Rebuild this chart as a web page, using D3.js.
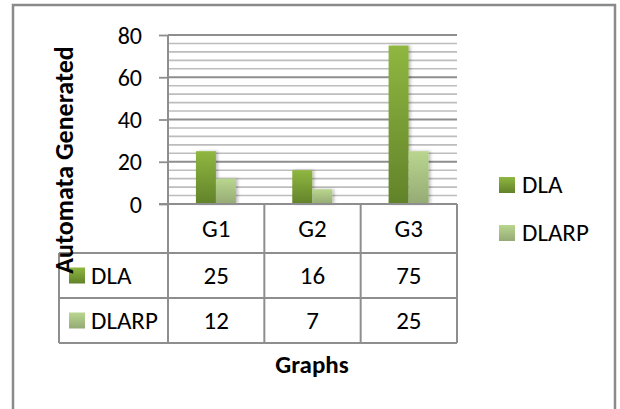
<!DOCTYPE html>
<html><head><meta charset="utf-8">
<script src="https://cdn.jsdelivr.net/npm/d3@7/dist/d3.min.js"></script>
<style>
html,body{margin:0;padding:0;background:#fff;}
svg{display:block;}
text{font-family:Carlito,Calibri,Lato,"Open Sans",sans-serif;fill:#000;}
</style></head>
<body>
<svg id="c" width="620" height="409"></svg>
<script>
const categories = ["G1","G2","G3"];
const seriesNames = ["DLA","DLARP"];
const dlaValues = [25,16,75];
const dlarpValues = [12,7,25];
const yTicks = [0,20,40,60,80];
const yTitle = "Automata Generated";
const xTitle = "Graphs";

const series = [dlaValues, dlarpValues];
const svg = d3.select("#c");
const defs = svg.append("defs");
const grads = [["#8fb740","#62822a"],["#b9d68e","#95aa75"]];
grads.forEach((g,i)=>{
  const lg = defs.append("linearGradient").attr("id","g"+i).attr("x1",0).attr("y1",0).attr("x2",0).attr("y2",1);
  lg.append("stop").attr("offset","0%").attr("stop-color",g[0]);
  lg.append("stop").attr("offset","100%").attr("stop-color",g[1]);
});
const sh = defs.append("filter").attr("id","sh").attr("x","-20%").attr("y","-10%").attr("width","160%").attr("height","130%");
sh.append("feDropShadow").attr("dx",2).attr("dy",0).attr("stdDeviation",1.5).attr("flood-color","#000").attr("flood-opacity",0.25);

// frame
svg.append("rect").attr("x",13).attr("y",5).attr("width",602).attr("height",420)
  .attr("fill","#fff").attr("stroke","#8a8a8a").attr("stroke-width",2.5);

const x = d3.scaleBand().domain(categories).range([168,457]);
const x1 = d3.scaleBand().domain(seriesNames).range([x.bandwidth()*0.29, x.bandwidth()*0.705]);
const y = d3.scaleLinear().domain([0,80]).range([204,35]);

// minor gridlines
svg.append("g").selectAll("line").data(d3.range(0,81,4).filter(v=>v%20!==0)).join("line")
  .attr("x1",168).attr("x2",457).attr("y1",d=>y(d)).attr("y2",d=>y(d))
  .attr("stroke","#bdbdbd").attr("stroke-width",1.6);
// major gridlines
svg.append("g").selectAll("line").data(yTicks).join("line")
  .attr("x1",168).attr("x2",457).attr("y1",d=>y(d)).attr("y2",d=>y(d))
  .attr("stroke","#8e8e8e").attr("stroke-width",1.8);

// y axis
const ya = svg.append("g").attr("transform","translate(168,0)")
  .call(d3.axisLeft(y).tickValues(yTicks).tickSize(9).tickPadding(17));
ya.select(".domain").remove();
ya.selectAll(".tick line").attr("stroke","#8e8e8e").attr("stroke-width",1.8);
ya.selectAll(".tick text").attr("font-size",24).attr("font-family","Carlito,Calibri,Lato,sans-serif").attr("fill","#000").attr("dy","0.34em");

// bars
const gb = svg.append("g");
categories.forEach((c,ci)=>{
  seriesNames.forEach((s,si)=>{
    gb.append("rect").attr("x",x(c)+x1(s)).attr("width",x1.bandwidth())
      .attr("y",y(series[si][ci])).attr("height",y(0)-y(series[si][ci]))
      .attr("fill","url(#g"+si+")").attr("filter","url(#sh)");
  });
});

// data table
const rowY = [204,253,298,343];
const tl = svg.append("g").attr("stroke","#8e8e8e").attr("stroke-width",2).attr("fill","none");
tl.append("line").attr("x1",168).attr("x2",168).attr("y1",35).attr("y2",343);
tl.append("line").attr("x1",159).attr("x2",457).attr("y1",204).attr("y2",204);
[253,298,343].forEach(v=>tl.append("line").attr("x1",59).attr("x2",457).attr("y1",v).attr("y2",v));
tl.append("line").attr("x1",59).attr("x2",59).attr("y1",253).attr("y2",343);
categories.forEach(c=>{
  tl.append("line").attr("x1",x(c)+x.bandwidth()).attr("x2",x(c)+x.bandwidth()).attr("y1",204).attr("y2",343);
});
const tt = svg.append("g").attr("font-size",25).attr("text-anchor","middle");
categories.forEach((c,ci)=>{
  const cx = x(c)+x.bandwidth()/2;
  tt.append("text").attr("x",cx).attr("y",229).attr("dy","0.33em").text(c);
  series.forEach((vals,si)=>{
    tt.append("text").attr("x",cx).attr("y",(rowY[si+1]+rowY[si+2])/2).attr("dy","0.33em").text(vals[ci]);
  });
});
seriesNames.forEach((s,si)=>{
  const cy=(rowY[si+1]+rowY[si+2])/2;
  svg.append("rect").attr("x",69).attr("y",cy-8).attr("width",16).attr("height",16).attr("fill","url(#g"+si+")");
  svg.append("text").attr("x",91).attr("y",cy).attr("dy","0.33em").attr("font-size",25).text(s);
});

// y title
svg.append("text").attr("transform","translate(73,160) rotate(-90)")
  .attr("text-anchor","middle").attr("font-size",26).attr("font-weight","bold").text(yTitle);
// x title
svg.append("text").attr("x",312).attr("y",373).attr("text-anchor","middle")
  .attr("font-size",25).attr("font-weight","bold").text(xTitle);

// legend
seriesNames.forEach((s,si)=>{
  const cy = 185 + si*48;
  svg.append("rect").attr("x",499).attr("y",cy-8).attr("width",16).attr("height",16).attr("fill","url(#g"+si+")");
  svg.append("text").attr("x",522).attr("y",cy).attr("dy","0.33em").attr("font-size",25).text(s);
});
</script>
</body></html>
